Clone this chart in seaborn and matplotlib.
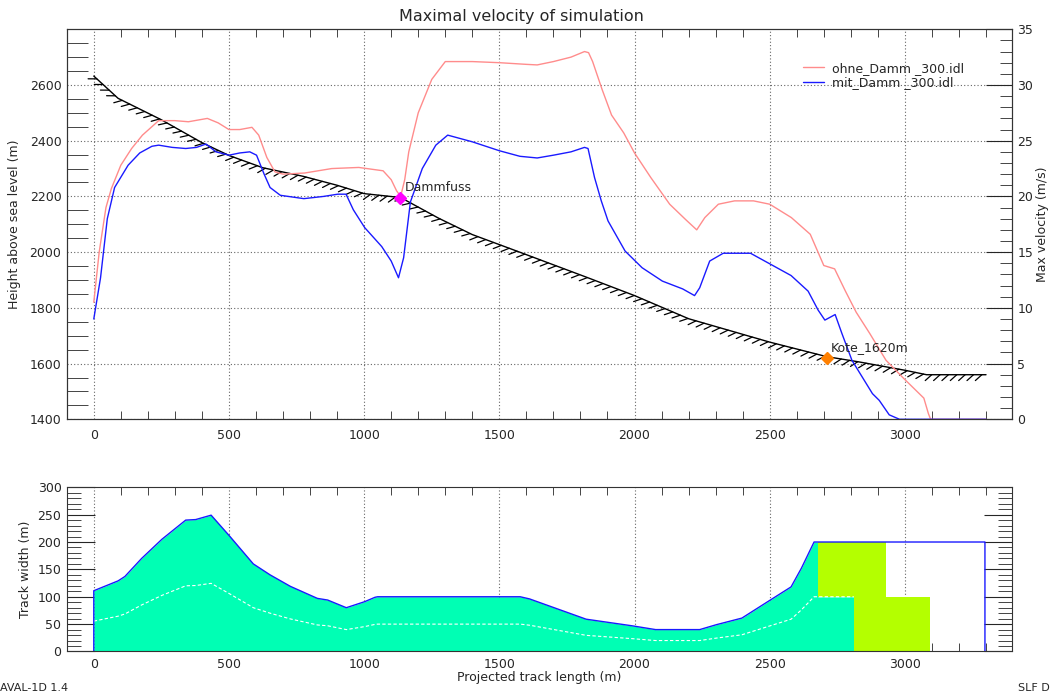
import matplotlib
matplotlib.use("Agg")
import numpy as np
import pandas as pd
import matplotlib.pyplot as plt
import matplotlib.patheffects as pe
from matplotlib.ticker import MultipleLocator
import seaborn as sns

# ---- data ----
terrain_x = [0, 90, 250, 400, 500, 625, 775, 900, 1000, 1135, 1275, 1400, 1575,
             1825, 2000, 2200, 2500, 2710, 2830, 3000, 3080, 3300]
terrain_h = [2632, 2552, 2475, 2393, 2347, 2303, 2272, 2240, 2210, 2196, 2122, 2063, 2000,
             1909, 1844, 1761, 1677, 1625, 1606, 1576, 1560, 1560]

ohne_x = [0, 20, 45, 65, 100, 140, 180, 240, 300, 350, 420, 460, 500, 540, 585, 610, 640,
          670, 700, 780, 880, 980, 1070, 1100, 1120, 1135, 1150, 1165, 1200, 1250, 1300,
          1400, 1500, 1600, 1640, 1700, 1765, 1815, 1830, 1845, 1880, 1915, 1960, 2000,
          2060, 2130, 2190, 2230, 2260, 2310, 2370, 2440, 2500, 2580, 2650, 2700, 2740,
          2780, 2820, 2870, 2930, 2990, 3070, 3087, 3095, 3300]
ohne_v = [10.5, 15.0, 19.0, 20.7, 22.8, 24.3, 25.5, 26.8, 26.8, 26.7, 27.0, 26.6, 26.0, 26.0,
          26.2, 25.5, 23.5, 22.2, 22.0, 22.1, 22.5, 22.6, 22.3, 21.5, 20.5, 20.0, 21.5, 24.0,
          27.5, 30.5, 32.1, 32.1, 32.0, 31.85, 31.8, 32.1, 32.5, 33.0, 32.9, 32.1, 29.6, 27.3,
          25.7, 23.9, 21.7, 19.3, 17.9, 17.0, 18.1, 19.3, 19.6, 19.6, 19.3, 18.1, 16.6, 13.8,
          13.5, 11.5, 9.6, 7.7, 5.3, 3.8, 1.9, 0.5, 0.0, 0.0]

mit_x = [0, 25, 50, 77, 127, 170, 215, 240, 290, 340, 380, 415, 452, 500, 540, 577, 602,
         630, 652, 690, 777, 850, 902, 933, 960, 1002, 1065, 1100, 1127, 1146, 1171, 1215,
         1265, 1309, 1400, 1500, 1576, 1640, 1700, 1765, 1815, 1828, 1852, 1877, 1902, 1965,
         2028, 2103, 2178, 2222, 2241, 2278, 2328, 2429, 2504, 2579, 2642, 2679, 2704, 2742,
         2767, 2804, 2842, 2880, 2905, 2942, 2980, 3300]
mit_v = [9.0, 12.7, 18.0, 20.8, 22.8, 23.9, 24.5, 24.6, 24.4, 24.3, 24.4, 24.7, 24.0, 23.7,
         23.9, 24.0, 23.7, 22.0, 20.8, 20.1, 19.8, 20.0, 20.2, 20.2, 18.8, 17.2, 15.5, 14.2,
         12.7, 14.5, 19.5, 22.5, 24.6, 25.5, 24.9, 24.1, 23.6, 23.45, 23.7, 24.0, 24.4, 24.3,
         21.7, 19.6, 17.8, 15.1, 13.6, 12.4, 11.7, 11.1, 11.8, 14.2, 14.9, 14.9, 13.9, 12.9,
         11.5, 9.8, 8.9, 9.4, 7.7, 5.3, 3.8, 2.3, 1.7, 0.4, 0.0, 0.0]

width_x = [0, 90, 115, 177, 252, 340, 377, 434, 502, 590, 652, 727, 827, 865, 934, 1002,
           1040, 1050, 1577, 1612, 1821, 1990, 2078, 2241, 2303, 2397, 2499, 2579, 2617,
           2664, 3296]
width_m = [111, 129, 137, 170, 205, 240, 241, 249, 211, 160, 140, 119, 97, 94, 80, 91,
           99, 100, 100, 96, 59, 47, 40, 40, 49, 61, 93, 118, 152, 200, 200]

# deposition blocks (start, end, lower, upper)
depo_x0 = [2677, 2811]
depo_x1 = [2929, 3093]
depo_lo = [100, 0]
depo_hi = [200, 100]
flow_end = 2811          # teal lower half runs out here

marks_name = ["Dammfuss", "Kote_1620m"]
marks_x = [1134, 2712]
marks_h = [2196, 1620]
marks_col = ["#ff00ff", "#ff8000"]

labels = ["ohne_Damm _300.idl", "mit_Damm _300.idl"]
red = "#ff8c8c"
blue = "#1a1aff"
teal = "#00ffb4"
lime = "#b4ff00"

sns.set_style("white")
plt.rcParams['font.family'] = ['DejaVu Sans']
plt.rcParams['axes.edgecolor'] = '#333333'

fig = plt.figure(figsize=(10.52, 6.95), dpi=100)
ax = fig.add_axes([0.0637, 0.3967, 0.8980, 0.5612])
ax2 = ax.twinx()
axb = fig.add_axes([0.0637, 0.0626, 0.8980, 0.2363])

grid_kw = dict(color='#666666', linestyle=(0, (1, 2)), linewidth=0.8)

## --- top: terrain + velocities ---
sns.lineplot(x=terrain_x, y=terrain_h, ax=ax, color='k', linewidth=1.0,
             estimator=None, sort=False)
ax.lines[-1].set_path_effects([pe.withTickedStroke(angle=-138, spacing=6, length=1.05,
                                                   linewidth=0.9)])
ax.set_xlim(-99, 3395)
ax.set_ylim(1400, 2800)
ax.xaxis.set_major_locator(MultipleLocator(500))
ax.xaxis.set_minor_locator(MultipleLocator(100))
ax.yaxis.set_major_locator(MultipleLocator(200))
ax.yaxis.set_minor_locator(MultipleLocator(50))
ax.set_yticks(np.arange(1400, 2601, 200))
ax.grid(True, which='major', **grid_kw)
ax.tick_params(which='major', length=0, labelsize=9, pad=4)
ax.tick_params(axis='x', which='major', pad=7)
ax.tick_params(axis='x', which='minor', direction='in', length=6, top=True, bottom=True)
ax.tick_params(axis='y', which='minor', direction='in', length=15, left=True, right=False)
ax.set_ylabel('Height above sea level (m)', fontsize=9, labelpad=6)

sns.lineplot(x=ohne_x, y=ohne_v, ax=ax2, color=red, linewidth=1.0, label=labels[0],
             estimator=None)
sns.lineplot(x=mit_x, y=mit_v, ax=ax2, color=blue, linewidth=1.0, label=labels[1],
             estimator=None)
ax2.set_ylim(0, 35)
ax2.yaxis.set_major_locator(MultipleLocator(5))
ax2.yaxis.set_minor_locator(MultipleLocator(1))
ax2.tick_params(axis='y', which='major', direction='in', length=19, labelsize=9, pad=4)
ax2.tick_params(axis='y', which='minor', direction='in', length=9)
ax2.set_ylabel('Max velocity (m/s)', fontsize=9, labelpad=2)
ax2.legend(loc='upper left', bbox_to_anchor=(0.779, 0.917), frameon=False, fontsize=9,
           handlelength=1.7, handletextpad=0.6, labelspacing=0.15, borderaxespad=0,
           borderpad=0)

for name, mx, mh, mc in zip(marks_name, marks_x, marks_h, marks_col):
    ax2.plot(mx, mh, marker='D', markersize=6, color=mc, transform=ax.transData)
    ax2.annotate(name, (mx, mh), xycoords=ax.transData, xytext=(3, 5),
                 textcoords='offset points', fontsize=9)

for a in (ax, ax2):
    for s in a.spines.values():
        s.set_visible(True)
        s.set_color('#333333')

## --- bottom: track width ---
fill_x = [x for x in width_x if x <= 2664] + [depo_x0[0], depo_x0[0], flow_end]
fill_w = [w for x, w in zip(width_x, width_m) if x <= 2664] + [depo_hi[0], depo_lo[0], depo_lo[0]]
axb.fill_between(fill_x, 0, fill_w, color=teal, linewidth=0)
for x0, x1, lo, hi in zip(depo_x0, depo_x1, depo_lo, depo_hi):
    axb.fill_between([x0, x1], lo, hi, color=lime, linewidth=0)

half_x = [x for x in width_x if x <= 2664] + [flow_end]
half_w = [w / 2 for x, w in zip(width_x, width_m) if x <= 2664] + [depo_lo[0]]
sns.lineplot(x=half_x, y=half_w, ax=axb, color='white', linewidth=0.8,
             linestyle=(0, (3, 2)), estimator=None, sort=False)

out_x = [width_x[0]] + width_x + [width_x[-1]]
out_w = [0] + width_m + [0]
sns.lineplot(x=out_x, y=out_w, ax=axb, color=blue, linewidth=1.0,
             estimator=None, sort=False)

axb.set_xlim(-99, 3395)
axb.set_ylim(0, 300)
axb.xaxis.set_major_locator(MultipleLocator(500))
axb.xaxis.set_minor_locator(MultipleLocator(100))
axb.yaxis.set_major_locator(MultipleLocator(50))
axb.yaxis.set_minor_locator(MultipleLocator(10))
axb.grid(True, which='major', axis='x', **grid_kw)
axb.tick_params(axis='x', which='major', length=0, labelsize=9, pad=5)
axb.tick_params(axis='x', which='minor', direction='in', length=6, top=True, bottom=True)
axb.tick_params(axis='y', which='major', direction='in', length=20, labelsize=9, pad=4,
                left=True, right=True)
axb.tick_params(axis='y', which='minor', direction='in', length=10, left=True, right=True)
axb.set_xlabel('Projected track length (m)', fontsize=9, labelpad=0)
axb.set_ylabel('Track width (m)', fontsize=9, labelpad=4)
for s in axb.spines.values():
    s.set_visible(True)
    s.set_color('#333333')

fig.text(521 / 1052, 1 - 17 / 695, 'Maximal velocity of simulation', ha='center',
         va='center', fontsize=11.5)
fig.text(0.0, 1 - 688 / 695, 'AVAL-1D 1.4', ha='left', va='center', fontsize=8)
fig.text(1050 / 1052, 1 - 688 / 695, 'SLF D', ha='right', va='center', fontsize=8)

fig.savefig('out.png', dpi=100, facecolor='white')
